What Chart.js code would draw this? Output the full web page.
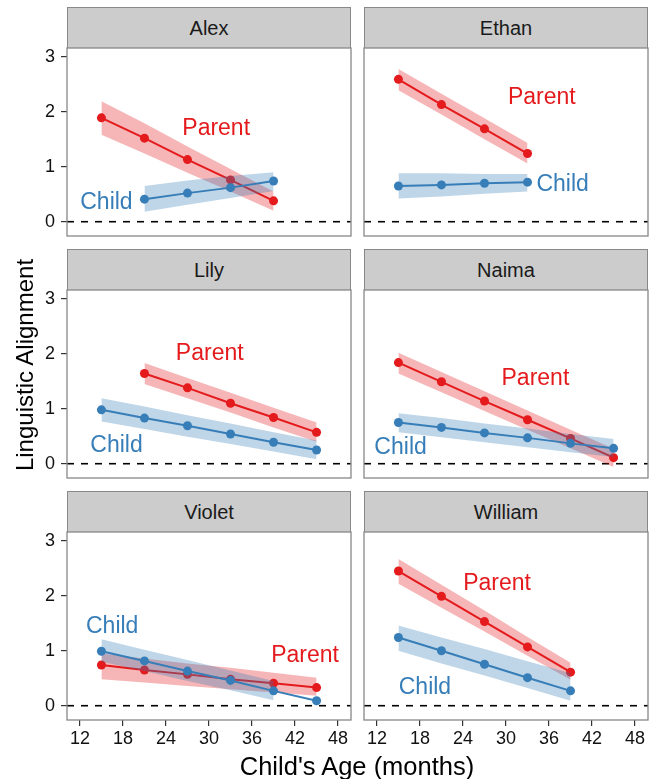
<!DOCTYPE html>
<html>
<head>
<meta charset="utf-8">
<script src="https://cdn.jsdelivr.net/npm/chart.js@4.4.1/dist/chart.umd.min.js"></script>
<style>
    body { margin: 0; background: #fff; }
    #wrap { position: relative; width: 657px; height: 779px; font-family: "Liberation Sans", Arial, sans-serif; }
    .strip { position: absolute; box-sizing: border-box; background: #cccccc; border: 1px solid #888; border-bottom: none;
             text-align: center; font-size: 20px; color: #1a1a1a; }
    canvas { position: absolute; }
    .axis-title { position: absolute; font-size: 24px; color: #000; text-align: center; height: 30px; line-height: 30px; white-space: nowrap; }
</style>
</head>
<body>
<div id="wrap"></div>
<script>
// ---- data ----
const kids = ['Alex', 'Ethan', 'Lily', 'Naima', 'Violet', 'William'];
const ages = [15, 21, 27, 33, 39, 45];
const xTicks = [12, 18, 24, 30, 36, 42, 48];
const yTicks = [0, 1, 2, 3];

const alexParent   = [1.89, 1.52, 1.13, 0.76, 0.38, null];
const alexParentHi = [2.19, 1.79, 1.37, 0.96, 0.55, null];
const alexParentLo = [1.58, 1.24, 0.89, 0.55, 0.20, null];
const alexChild    = [null, 0.41, 0.52, 0.62, 0.74, null];
const alexChildHi  = [null, 0.65, 0.75, 0.83, 0.90, null];
const alexChildLo  = [null, 0.18, 0.31, 0.43, 0.56, null];

const ethanParent   = [2.59, 2.13, 1.69, 1.24, null, null];
const ethanParentHi = [2.78, 2.33, 1.88, 1.43, null, null];
const ethanParentLo = [2.39, 1.95, 1.50, 1.06, null, null];
const ethanChild    = [0.65, 0.67, 0.70, 0.72, null, null];
const ethanChildHi  = [0.88, 0.88, 0.87, 0.87, null, null];
const ethanChildLo  = [0.42, 0.46, 0.51, 0.55, null, null];

const lilyParent   = [null, 1.64, 1.38, 1.10, 0.84, 0.57];
const lilyParentHi = [null, 1.83, 1.56, 1.29, 1.02, 0.75];
const lilyParentLo = [null, 1.45, 1.19, 0.93, 0.66, 0.40];
const lilyChild    = [0.98, 0.83, 0.69, 0.54, 0.39, 0.25];
const lilyChildHi  = [1.19, 1.04, 0.88, 0.73, 0.57, 0.42];
const lilyChildLo  = [0.77, 0.63, 0.49, 0.36, 0.22, 0.08];

const naimaParent   = [1.84, 1.49, 1.14, 0.80, 0.46, 0.11];
const naimaParentHi = [2.02, 1.67, 1.32, 0.97, 0.62, 0.27];
const naimaParentLo = [1.64, 1.30, 0.96, 0.62, 0.28, -0.06];
const naimaChild    = [0.75, 0.66, 0.56, 0.47, 0.37, 0.28];
const naimaChildHi  = [0.92, 0.83, 0.73, 0.64, 0.54, 0.45];
const naimaChildLo  = [0.57, 0.48, 0.39, 0.30, 0.21, 0.12];

const violetParent   = [0.74, 0.65, 0.57, 0.48, 0.41, 0.33];
const violetParentHi = [0.95, 0.86, 0.77, 0.69, 0.60, 0.51];
const violetParentLo = [0.48, 0.42, 0.36, 0.30, 0.24, 0.18];
const violetChild    = [0.99, 0.815, 0.63, 0.46, 0.27, 0.09];
const violetChildHi  = [1.21, 1.02, 0.83, 0.64, 0.45, null];
const violetChildLo  = [0.80, 0.63, 0.45, 0.28, 0.10, null];

const williamParent   = [2.45, 1.99, 1.53, 1.07, 0.61, null];
const williamParentHi = [2.67, 2.20, 1.73, 1.25, 0.78, null];
const williamParentLo = [2.22, 1.78, 1.35, 0.91, 0.47, null];
const williamChild    = [1.24, 1.00, 0.755, 0.51, 0.27, null];
const williamChildHi  = [1.46, 1.24, 1.03, 0.81, 0.59, null];
const williamChildLo  = [1.00, 0.77, 0.55, 0.32, 0.09, null];

// where the "Parent" / "Child" words sit, in (age, alignment)
const parentLabelAt = [[31, 1.73], [35, 2.29], [30.1, 2.03], [34.1, 1.59], [43.4, 0.95], [28.75, 2.25]];
const childLabelAt  = [[15.7, 0.39], [37.9, 0.70], [17.1, 0.37], [15.3, 0.33], [16.5, 1.47], [18.7, 0.36]];

document.addEventListener('DOMContentLoaded', () => {
    const RED = '#E41A1C';
    const BLUE = '#377EB8';
    const RED_FILL = 'rgba(228, 26, 28, 0.32)';
    const BLUE_FILL = 'rgba(55, 126, 184, 0.32)';
    const FONT = '"Liberation Sans", Arial, sans-serif';

    const series = [
        [alexParent, alexParentHi, alexParentLo, alexChild, alexChildHi, alexChildLo],
        [ethanParent, ethanParentHi, ethanParentLo, ethanChild, ethanChildHi, ethanChildLo],
        [lilyParent, lilyParentHi, lilyParentLo, lilyChild, lilyChildHi, lilyChildLo],
        [naimaParent, naimaParentHi, naimaParentLo, naimaChild, naimaChildHi, naimaChildLo],
        [violetParent, violetParentHi, violetParentLo, violetChild, violetChildHi, violetChildLo],
        [williamParent, williamParentHi, williamParentLo, williamChild, williamChildHi, williamChildLo]
    ];

    // panel geometry (plot area, px)
    const cols = [{ left: 67, right: 351 }, { left: 364, right: 648 }];
    const rows = [
        { strip: 7, top: 48, bottom: 236 },
        { strip: 249, top: 290, bottom: 478 },
        { strip: 491, top: 532, bottom: 720 }
    ];

    const toPoints = vals => ages.map((a, i) => ({ x: a, y: vals[i] })).filter(p => p.y !== null);

    const panelExtras = {
        id: 'panelExtras',
        beforeDatasetsDraw(chart) {
            const { ctx, chartArea: a, scales: { y } } = chart;
            const py = y.getPixelForValue(0);
            ctx.save();
            ctx.strokeStyle = '#000';
            ctx.lineWidth = 1.6;
            ctx.setLineDash([7, 7]);
            ctx.beginPath();
            ctx.moveTo(a.left, py);
            ctx.lineTo(a.right, py);
            ctx.stroke();
            ctx.restore();
        },
        afterDraw(chart, args, opts) {
            const { ctx, chartArea: a, scales: { x, y } } = chart;
            ctx.save();
            ctx.font = '23px ' + FONT;
            ctx.textAlign = 'center';
            ctx.textBaseline = 'alphabetic';
            opts.labels.forEach(l => {
                ctx.fillStyle = l.color;
                ctx.fillText(l.text, x.getPixelForValue(l.at[0]), y.getPixelForValue(l.at[1]) + 0.358 * 23);
            });
            ctx.strokeStyle = '#888';
            ctx.lineWidth = 1.3;
            ctx.strokeRect(a.left, a.top, a.right - a.left, a.bottom - a.top);
            ctx.restore();
        }
    };

    const noPad = s => { s.paddingTop = 0; s.paddingBottom = 0; s.paddingLeft = 0; s.paddingRight = 0; };

    const wrap = document.getElementById('wrap');

    kids.forEach((name, k) => {
        const col = cols[k % 2];
        const row = rows[Math.floor(k / 2)];
        const isLeft = k % 2 === 0;
        const isBottom = k >= 4;
        const [par, parHi, parLo, chi, chiHi, chiLo] = series[k];

        const strip = document.createElement('div');
        strip.className = 'strip';
        strip.textContent = name;
        Object.assign(strip.style, {
            left: col.left + 'px', top: row.strip + 'px',
            width: (col.right - col.left) + 'px', height: (row.top - row.strip) + 'px',
            lineHeight: (row.top - row.strip - 1) + 'px'
        });
        wrap.appendChild(strip);

        const canvasLeft = isLeft ? 0 : col.left - 2;
        const canvasWidth = col.right + 2 - canvasLeft;
        const xHeight = isBottom ? 32 : 0;
        const yWidth = isLeft ? 67 : 0;
        const canvasHeight = (row.bottom - row.top) + 2 + (isBottom ? xHeight : 2);

        const canvas = document.createElement('canvas');
        canvas.width = canvasWidth;
        canvas.height = canvasHeight;
        canvas.style.left = canvasLeft + 'px';
        canvas.style.top = (row.top - 2) + 'px';
        canvas.style.width = canvasWidth + 'px';
        canvas.style.height = canvasHeight + 'px';
        wrap.appendChild(canvas);

        const line = (label, vals, color) => ({
            label, data: toPoints(vals), borderColor: color, backgroundColor: color,
            borderWidth: 2, pointRadius: 4.5, pointBorderWidth: 0, pointHoverRadius: 4.5, fill: false
        });
        const band = (vals, fillColor, fill) => ({
            data: toPoints(vals), borderColor: 'rgba(0,0,0,0)', borderWidth: 0,
            backgroundColor: fillColor, pointRadius: 0, pointHoverRadius: 0, fill
        });

        new Chart(canvas, {
            type: 'line',
            data: {
                // lower index is drawn on top
                datasets: [
                    line('Child', chi, BLUE),
                    band(chiHi, BLUE_FILL, '+1'),
                    band(chiLo, BLUE_FILL, false),
                    line('Parent', par, RED),
                    band(parHi, RED_FILL, '+1'),
                    band(parLo, RED_FILL, false)
                ]
            },
            options: {
                responsive: false,
                animation: false,
                devicePixelRatio: 1,
                layout: {
                    autoPadding: false,
                    padding: { left: isLeft ? 0 : 2, right: 2, top: 2, bottom: isBottom ? 0 : 2 }
                },
                plugins: {
                    legend: { display: false },
                    tooltip: { enabled: false },
                    panelExtras: {
                        labels: [
                            { text: 'Parent', at: parentLabelAt[k], color: RED },
                            { text: 'Child', at: childLabelAt[k], color: BLUE }
                        ]
                    }
                },
                scales: {
                    x: {
                        type: 'linear', min: 10.2, max: 49.8, display: isBottom,
                        afterBuildTicks: s => { s.ticks = xTicks.map(v => ({ value: v })); },
                        afterFit: s => { s.height = xHeight; noPad(s); },
                        grid: { drawOnChartArea: false, drawTicks: true, tickLength: 6, color: '#333', lineWidth: 1.2 },
                        border: { display: false },
                        ticks: { font: { size: 18, family: FONT }, color: '#111', padding: 2, maxRotation: 0, autoSkip: false }
                    },
                    y: {
                        type: 'linear', min: -0.26, max: 3.16, display: isLeft,
                        afterBuildTicks: s => { s.ticks = yTicks.map(v => ({ value: v })); },
                        afterFit: s => { s.width = yWidth; noPad(s); },
                        grid: { drawOnChartArea: false, drawTicks: true, tickLength: 6, color: '#333', lineWidth: 1.2 },
                        border: { display: false },
                        ticks: { font: { size: 18, family: FONT }, color: '#111', padding: 6 }
                    }
                }
            },
            plugins: [panelExtras]
        });
    });

    const xTitle = document.createElement('div');
    xTitle.className = 'axis-title';
    xTitle.textContent = "Child's Age (months)";
    Object.assign(xTitle.style, { left: '57px', width: '600px', top: '751px', fontSize: '25.5px' });
    wrap.appendChild(xTitle);

    const yTitle = document.createElement('div');
    yTitle.className = 'axis-title';
    yTitle.textContent = 'Linguistic Alignment';
    Object.assign(yTitle.style, { left: (25 - 150) + 'px', width: '300px', top: (365 - 15) + 'px', transform: 'rotate(-90deg)' });
    wrap.appendChild(yTitle);
});
</script>
</body>
</html>
